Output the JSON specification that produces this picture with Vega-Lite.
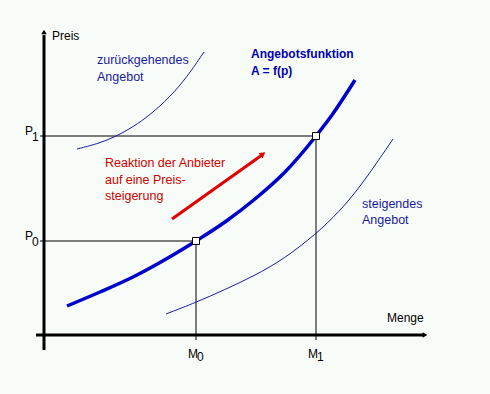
{
  "$schema": "https://vega.github.io/schema/vega-lite/v6.json",
  "width": 490,
  "height": 394,
  "padding": 0,
  "autosize": {"type": "none"},
  "background": "#f8fcf8",
  "config": {"view": {"stroke": null}, "text": {"font": "Liberation Sans"}},
  "datasets": {
    "main": [
      {"x": 2.3, "y": 2.9}, {"x": 5.6, "y": 4.3}, {"x": 8.9, "y": 5.8}, {"x": 12.9, "y": 8.0},
      {"x": 15.2, "y": 9.4}, {"x": 18.1, "y": 11.3}, {"x": 21.1, "y": 13.6}, {"x": 24.1, "y": 16.3},
      {"x": 27.2, "y": 19.9}, {"x": 28.8, "y": 22.0}, {"x": 31.1, "y": 25.5}
    ],
    "shifted": [
      {"s": "links", "x": 3.3, "y": 18.6}, {"s": "links", "x": 5.3, "y": 19.1}, {"s": "links", "x": 7.1, "y": 19.8},
      {"s": "links", "x": 8.9, "y": 20.8}, {"s": "links", "x": 10.6, "y": 22.0}, {"s": "links", "x": 12.6, "y": 23.8},
      {"s": "links", "x": 14.3, "y": 25.8}, {"s": "links", "x": 16.0, "y": 28.3},
      {"s": "rechts", "x": 12.2, "y": 2.1}, {"s": "rechts", "x": 15.3, "y": 3.3}, {"s": "rechts", "x": 18.0, "y": 4.5},
      {"s": "rechts", "x": 21.0, "y": 5.9}, {"s": "rechts", "x": 24.0, "y": 7.6}, {"s": "rechts", "x": 27.2, "y": 10.1},
      {"s": "rechts", "x": 29.5, "y": 12.3}, {"s": "rechts", "x": 31.5, "y": 14.7}, {"s": "rechts", "x": 33.2, "y": 17.1},
      {"s": "rechts", "x": 34.9, "y": 19.6}
    ]
  },
  "encoding": {
    "x": {"type": "quantitative", "scale": {"domain": [-4.4, 44.6], "nice": false, "zero": false}, "axis": null},
    "y": {"type": "quantitative", "scale": {"domain": [-5.9, 33.5], "nice": false, "zero": false}, "axis": null}
  },
  "layer": [
    {
      "data": {"values": [
        {"x": 15.2, "y": -0.5, "x2": 15.2, "y2": 9.4},
        {"x": 27.2, "y": -0.5, "x2": 27.2, "y2": 19.9},
        {"x": -0.4, "y": 9.4, "x2": 15.2, "y2": 9.4},
        {"x": -0.4, "y": 19.9, "x2": 27.2, "y2": 19.9}
      ]},
      "mark": {"type": "rule", "color": "#000000", "strokeWidth": 1},
      "encoding": {"x": {"field": "x"}, "y": {"field": "y"}, "x2": {"field": "x2"}, "y2": {"field": "y2"}}
    },
    {
      "data": {"values": [
        {"x": 0, "y": -1.5, "x2": 0, "y2": 30.0},
        {"x": -0.8, "y": 0, "x2": 37.9, "y2": 0}
      ]},
      "mark": {"type": "rule", "color": "#000000", "strokeWidth": 3},
      "encoding": {"x": {"field": "x"}, "y": {"field": "y"}, "x2": {"field": "x2"}, "y2": {"field": "y2"}}
    },
    {
      "data": {"values": [{"x": 0, "y": 30.3, "a": 0}, {"x": 38.1, "y": 0, "a": 90}]},
      "mark": {"type": "point", "shape": "triangle-up", "filled": true, "color": "#000000", "size": 30, "opacity": 1},
      "encoding": {"x": {"field": "x"}, "y": {"field": "y"}, "angle": {"field": "a", "type": "quantitative", "scale": null}}
    },
    {
      "data": {"name": "shifted"},
      "mark": {"type": "line", "interpolate": "basis", "color": "#1a1a9c", "strokeWidth": 1},
      "encoding": {"x": {"field": "x"}, "y": {"field": "y"}, "detail": {"field": "s"}}
    },
    {
      "data": {"name": "main"},
      "mark": {"type": "line", "interpolate": "monotone", "color": "#0000cc", "strokeWidth": 3.5},
      "encoding": {"x": {"field": "x"}, "y": {"field": "y"}}
    },
    {
      "data": {"values": [{"x": 12.8, "y": 11.6, "x2": 21.8, "y2": 18.0}]},
      "mark": {"type": "rule", "color": "#e00000", "strokeWidth": 3},
      "encoding": {"x": {"field": "x"}, "y": {"field": "y"}, "x2": {"field": "x2"}, "y2": {"field": "y2"}}
    },
    {
      "data": {"values": [{"x": 21.9, "y": 18.1, "a": 54.5}]},
      "mark": {"type": "point", "shape": "triangle-up", "filled": true, "color": "#e00000", "size": 45, "opacity": 1},
      "encoding": {"x": {"field": "x"}, "y": {"field": "y"}, "angle": {"field": "a", "type": "quantitative", "scale": null}}
    },
    {
      "data": {"values": [{"x": 15.2, "y": 9.4}, {"x": 27.2, "y": 19.9}]},
      "mark": {"type": "point", "shape": "square", "filled": true, "fill": "#ffffff", "stroke": "#000000", "strokeWidth": 1, "size": 49, "opacity": 1},
      "encoding": {"x": {"field": "x"}, "y": {"field": "y"}}
    },
    {
      "data": {"values": [
        {"t": "Preis", "x": 0.8, "y": 29.5},
        {"t": "Menge", "x": 34.3, "y": 1.3},
        {"t": "P", "x": -1.9, "y": 20.0},
        {"t": "P", "x": -1.9, "y": 9.5},
        {"t": "M", "x": 14.4, "y": -2.3},
        {"t": "M", "x": 26.4, "y": -2.3},
        {"t": "1", "x": -1.2, "y": 19.4},
        {"t": "0", "x": -1.2, "y": 8.9},
        {"t": "0", "x": 15.3, "y": -2.6},
        {"t": "1", "x": 27.3, "y": -2.6}
      ]},
      "mark": {"type": "text", "align": "left", "baseline": "alphabetic", "fontSize": 12, "color": "#000000"},
      "encoding": {"x": {"field": "x"}, "y": {"field": "y"}, "text": {"field": "t"}}
    },
    {
      "data": {"values": [
        {"t": "zurückgehendes", "x": 5.3, "y": 27.1},
        {"t": "Angebot", "x": 5.3, "y": 25.4},
        {"t": "steigendes", "x": 31.8, "y": 12.7},
        {"t": "Angebot", "x": 31.8, "y": 11.1}
      ]},
      "mark": {"type": "text", "align": "left", "baseline": "alphabetic", "fontSize": 12.5, "color": "#1a1a9c"},
      "encoding": {"x": {"field": "x"}, "y": {"field": "y"}, "text": {"field": "t"}}
    },
    {
      "data": {"values": [
        {"t": "Angebotsfunktion", "x": 20.7, "y": 27.7},
        {"t": "A = f(p)", "x": 20.7, "y": 26.0}
      ]},
      "mark": {"type": "text", "align": "left", "baseline": "alphabetic", "fontSize": 12, "fontWeight": "bold", "color": "#0000b4"},
      "encoding": {"x": {"field": "x"}, "y": {"field": "y"}, "text": {"field": "t"}}
    },
    {
      "data": {"values": [
        {"t": "Reaktion der Anbieter", "x": 6.1, "y": 16.8},
        {"t": "auf eine Preis-", "x": 6.1, "y": 15.1},
        {"t": "steigerung", "x": 6.1, "y": 13.5}
      ]},
      "mark": {"type": "text", "align": "left", "baseline": "alphabetic", "fontSize": 12.5, "color": "#d00000"},
      "encoding": {"x": {"field": "x"}, "y": {"field": "y"}, "text": {"field": "t"}}
    }
  ]
}
